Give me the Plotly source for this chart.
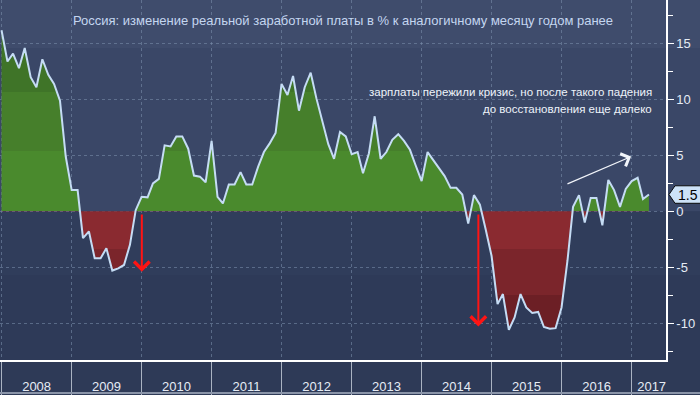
import plotly.graph_objects as go
import pandas as pd

# ---------------- data ----------------
start_month = "2007-12-31"
wage_change = [
    16.2, 13.4, 14.1, 12.8, 14.6, 12.0, 11.1, 13.6, 12.2, 11.4, 9.9, 4.9,
    1.9, 1.9, -2.4, -1.8, -4.2, -4.2, -3.3, -5.3, -5.1, -4.8, -3.0, 0.1,
    1.3, 1.25, 2.5, 2.9, 5.9, 5.8, 6.7, 6.7, 5.6, 3.2, 3.1, 2.6,
    6.3, 1.3, 0.7, 2.4, 2.4, 3.5, 2.4, 2.4, 4.0, 5.3, 6.1, 7.0,
    11.4, 10.4, 12.1, 9.0, 11.1, 12.4, 10.1, 8.1, 6.0, 4.7, 7.1, 6.7,
    5.1, 5.3, 3.4, 5.2, 8.5, 4.7, 5.3, 6.4, 6.9, 6.3, 5.5, 4.1,
    2.7, 5.3, 4.6, 3.8, 3.15, 2.1, 2.1, 1.5, -1.1, 1.45, 0.6, -1.6,
    -4.0, -8.3, -7.4, -10.6, -9.5, -7.4, -8.6, -9.1, -9.0, -10.35, -10.5, -10.45,
    -8.6, -4.4, 0.4, 1.45, -1.0, 1.2, 1.2, -1.25, 2.8, 1.9, 0.4, 2.0,
    2.7, 3.0, 1.1, 1.5,
]
last_label = "1.5"
years = [2008, 2009, 2010, 2011, 2012, 2013, 2014, 2015, 2016, 2017]
year_label_dates = ["2008-07-01", "2009-07-01", "2010-07-01", "2011-07-01", "2012-07-01",
                    "2013-07-01", "2014-07-01", "2015-07-01", "2016-07-01", "2017-04-14"]
year_start_dates = [f"{y}-01-01" for y in years]
y_major = [-10, -5, 0, 5, 10, 15]
y_minor = [-12.5, -7.5, -2.5, 2.5, 7.5, 12.5, 17.5]

title_text = "Россия: изменение реальной заработной платы в % к аналогичному месяцу годом ранее"
note_line1 = "зарплаты пережили кризис, но после такого падения"
note_line2 = "до восстановления еще далеко"

# ---------------- styling ----------------
Y_MIN, Y_MAX = -13.3, 18.9
X_RANGE = ["2007-12-23", "2017-06-28"]
FONT = "Liberation Sans"

fill_edges = [-7.5, -3.4, 0, 5.4, 10.65]
fill_colors = ["#6c1f25", "#7b252b", "#8a2a30", "#4a8a2d", "#467f2b", "#3f7428"]

def pos(v):
    return (v - Y_MIN) / (Y_MAX - Y_MIN)

cs = [[0.0, fill_colors[0]]]
for e, c0, c1 in zip(fill_edges, fill_colors[:-1], fill_colors[1:]):
    cs.append([pos(e), c0])
    cs.append([pos(e), c1])
cs.append([1.0, fill_colors[-1]])

dates = pd.date_range(start_month, periods=len(wage_change), freq="ME")

fig = go.Figure()

fig.add_trace(go.Scatter(
    x=dates, y=wage_change, mode="lines",
    line=dict(color="#c5dcf4", width=2),
    fill="tozeroy",
    fillgradient=dict(type="vertical", start=Y_MIN, stop=Y_MAX, colorscale=cs),
    hoverinfo="skip",
))

# triangles at major ticks of right axis
fig.add_trace(go.Scatter(
    x=[1.0065] * len(y_major), y=y_major, xaxis="x2", yaxis="y",
    mode="markers", marker=dict(symbol="triangle-right", size=7, color="white"),
    cliponaxis=False, hoverinfo="skip",
))

# background bands (paper coords)
bg_bands = [
    (Y_MIN, -5.7, "#2e3a58"),
    (-5.7, 0, "#303d5b"),
    (0, 14.6, "#3a4767"),
    (14.6, Y_MAX, "#3f4c6c"),
]
shapes = []
XR = 700 / 666
for lo, hi, col in bg_bands:
    shapes.append(dict(type="rect", xref="paper", yref="paper", x0=0, x1=XR,
                       y0=pos(lo), y1=pos(hi), fillcolor=col, line_width=0, layer="below"))
# bottom border line
shapes.append(dict(type="line", xref="paper", yref="paper", x0=0, x1=XR,
                   y0=-0.092, y1=-0.092, line=dict(color="#8a94a8", width=2), layer="above"))
# last value tag
yc = pos(float(last_label))
hh = 8.75 / 360
tip = 669 / 666
bx0 = 675 / 666
shapes.append(dict(type="path", xref="paper", yref="paper",
                   path=f"M{tip},{yc} L{bx0},{yc+hh} L{XR+0.01},{yc+hh} L{XR+0.01},{yc-hh} L{bx0},{yc-hh} Z",
                   fillcolor="#cde2f7", line=dict(color="#0a0a0a", width=1), layer="above"))

annotations = [
    dict(xref="paper", yref="y", x=676 / 666, y=float(last_label), text=last_label,
         showarrow=False, xanchor="left", yanchor="middle",
         font=dict(family=FONT, size=14, color="#000000")),
    dict(xref="paper", yref="paper", x=654 / 666, y=1 - 91.5 / 360, text=note_line1,
         showarrow=False, xanchor="right", yanchor="middle",
         font=dict(family=FONT, size=11.5, color="#eef3fa")),
    dict(xref="paper", yref="paper", x=654 / 666, y=1 - 109 / 360, text=note_line2,
         showarrow=False, xanchor="right", yanchor="middle",
         font=dict(family=FONT, size=11.5, color="#eef3fa")),
    # white trend arrow
    dict(xref="x", yref="y", axref="x", ayref="y",
         x="2016-12-28", y=4.9, ax="2016-01-23", ay=2.4, text="",
         showarrow=True, arrowhead=4, arrowsize=2.2, arrowwidth=1.2, arrowcolor="#f2f5fa",
         standoff=0, startstandoff=0),
    # red drop arrows
    dict(xref="x", yref="y", axref="x", ayref="y",
         x="2010-01-01", y=-5.4, ax="2010-01-01", ay=-0.15, text="",
         showarrow=True, arrowhead=4, arrowsize=1.5, arrowwidth=2, arrowcolor="#ff1414",
         standoff=0, startstandoff=0),
    dict(xref="x", yref="y", axref="x", ayref="y",
         x="2014-10-23", y=-10.3, ax="2014-10-23", ay=-0.15, text="",
         showarrow=True, arrowhead=4, arrowsize=1.5, arrowwidth=2, arrowcolor="#ff1414",
         standoff=0, startstandoff=0),
]

grid_col = "rgba(125,145,175,0.55)"
fig.update_layout(
    width=700, height=395,
    margin=dict(l=0, r=34, t=0, b=35, pad=0),
    paper_bgcolor="#2e3a57",
    plot_bgcolor="rgba(0,0,0,0)",
    showlegend=False,
    title=dict(text=title_text, x=0.49, xanchor="center", y=1 - 20 / 395, yanchor="middle",
               font=dict(family=FONT, size=13, color="#c4d6f0")),
    xaxis=dict(
        type="date", range=X_RANGE,
        tickmode="array", tickvals=year_label_dates, ticktext=[str(y) for y in years],
        ticks="", showgrid=False, zeroline=False,
        showline=True, linecolor="#ffffff", linewidth=1.5,
        tickfont=dict(family=FONT, size=13, color="#e6ecf5"),
        ticklabelstandoff=14,
        minor=dict(tickmode="array", tickvals=year_start_dates, ticks="outside", ticklen=33,
                   tickcolor="#aab3c2", tickwidth=1,
                   showgrid=True, gridcolor=grid_col, griddash="3px,3px", gridwidth=1),
    ),
    xaxis2=dict(overlaying="x", range=[0, 1], visible=False),
    yaxis=dict(
        side="right", range=[Y_MIN, Y_MAX],
        tickmode="array", tickvals=y_major, ticktext=[str(v) for v in y_major],
        ticks="outside", ticklen=6, tickcolor="#ffffff", tickwidth=1,
        showline=True, linecolor="#ffffff", linewidth=1.5,
        showgrid=True, gridcolor=grid_col, griddash="3px,3px", gridwidth=1,
        zeroline=False,
        tickfont=dict(family=FONT, size=13, color="#e6ecf5"),
        minor=dict(tickmode="array", tickvals=y_minor, ticks="outside", ticklen=5,
                   tickcolor="#ffffff", tickwidth=1, showgrid=False),
    ),
    shapes=shapes,
    annotations=annotations,
)

fig.write_html("out.html", config={"displayModeBar": False},
               post_script="document.body.style.margin='0';document.body.style.overflow='hidden';")
